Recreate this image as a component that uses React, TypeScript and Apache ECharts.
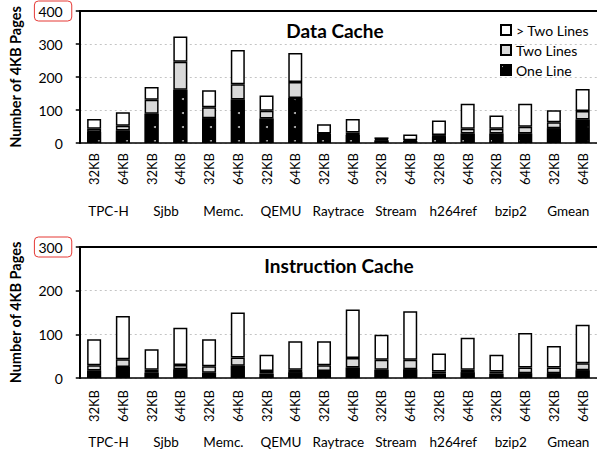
import React, { useEffect, useRef } from "react";
import * as echarts from "echarts";

const groups = ["TPC-H", "Sjbb", "Memc.", "QEMU", "Raytrace", "Stream", "h264ref", "bzip2", "Gmean"];
const sizes = ["32KB", "64KB"];
const categories = groups.flatMap((g) => sizes.map((s) => `${g} ${s}`));

// Data Cache
const dataOne = [33, 38, 89, 161, 75, 132, 74, 136, 27, 24, 8, 6, 18, 29, 29, 29, 45, 71];
const dataTwo = [10, 14, 42, 85, 33, 46, 24, 49, 2, 8, 3, 2, 6, 14, 14, 20, 18, 26];
const dataMore = [30, 41, 39, 77, 52, 104, 46, 88, 28, 41, 6, 18, 44, 76, 40, 70, 36, 67];

// Instruction Cache
const instOne = [17, 25, 12, 20, 12, 28, 10, 13, 16, 24, 19, 20, 10, 13, 10, 11, 11, 18];
const instTwo = [12, 18, 7, 10, 15, 19, 6, 6, 13, 22, 23, 22, 5, 6, 5, 13, 13, 16];
const instMore = [60, 99, 47, 85, 62, 103, 37, 65, 55, 111, 57, 111, 41, 73, 38, 79, 49, 88];

const yMaxData = 400;
const yMaxInst = 300;

const FONT = "Lato";

function yAxisFor(gridIndex: number, max: number) {
  return {
    type: "value",
    gridIndex,
    min: 0,
    max,
    interval: 100,
    name: "Number of 4KB Pages",
    nameLocation: "middle",
    nameGap: 47,
    nameTextStyle: { fontFamily: FONT, fontWeight: "bold", fontSize: 14.5, color: "#000" },
    axisLine: { show: true, lineStyle: { color: "#000", width: 2 } },
    axisTick: { show: true, length: 4, lineStyle: { color: "#000", width: 1.5 } },
    splitLine: { show: true, lineStyle: { color: "#c4c4c4", type: [2, 3], width: 1 } },
    axisLabel: {
      margin: 8,
      formatter: (v: number) => (v === max ? `{box|${v}}` : `{n|${v}}`),
      rich: {
        n: { fontFamily: FONT, fontSize: 14, color: "#000", padding: [3, 9, 3, 4] },
        box: {
          fontFamily: FONT,
          fontSize: 14,
          color: "#000",
          padding: [3, 9, 3, 4],
          borderColor: "#e53935",
          borderWidth: 1,
          borderRadius: 4,
        },
      },
    },
  };
}

function xAxesFor(gridIndex: number, sizeMargin: number, groupMargin: number) {
  return [
    {
      type: "category",
      gridIndex,
      data: categories,
      position: "bottom",
      axisLine: { show: true, lineStyle: { color: "#000", width: 1.5 } },
      axisTick: { show: false },
      axisLabel: {
        interval: 0,
        rotate: 90,
        margin: sizeMargin,
        fontFamily: FONT,
        fontSize: 13,
        color: "#000",
        formatter: (v: string) => v.split(" ")[1],
      },
    },
    {
      type: "category",
      gridIndex,
      data: groups,
      position: "bottom",
      axisLine: { show: false },
      axisTick: { show: false },
      axisLabel: { interval: 0, margin: groupMargin, fontFamily: FONT, fontSize: 13.5, color: "#000" },
    },
    {
      type: "category",
      gridIndex,
      data: categories,
      position: "top",
      axisLine: { show: true, lineStyle: { color: "#000", width: 2 } },
      axisTick: { show: false },
      axisLabel: { show: false },
    },
  ];
}

const barBase = {
  type: "bar",
  barWidth: 14,
  itemStyle: { borderColor: "#000", borderWidth: 1.5 },
};

function seriesFor(axisOffset: number, gridIndex: number, one: number[], two: number[], more: number[]) {
  const stack = `s${gridIndex}`;
  return [
    {
      ...barBase,
      name: "One Line",
      xAxisIndex: axisOffset,
      yAxisIndex: gridIndex,
      stack,
      data: one,
      itemStyle: {
        color: "#000",
        borderColor: "#000",
        borderWidth: 1.5,
        decal: {
          symbol: "circle",
          symbolSize: 1,
          color: "rgba(255,255,255,0.75)",
          dashArrayX: [1.5, 12],
          dashArrayY: [1.5, 12],
        },
      },
    },
    {
      ...barBase,
      name: "Two Lines",
      xAxisIndex: axisOffset,
      yAxisIndex: gridIndex,
      stack,
      data: two,
      itemStyle: { color: "#d9d9d9", borderColor: "#000", borderWidth: 1.5 },
    },
    {
      ...barBase,
      name: "> Two Lines",
      xAxisIndex: axisOffset,
      yAxisIndex: gridIndex,
      stack,
      data: more,
      itemStyle: { color: "#fff", borderColor: "#000", borderWidth: 1.5 },
    },
  ];
}

export default function App() {
  const ref = useRef<HTMLDivElement>(null);
  useEffect(() => {
    if (!ref.current) return;
    const chart = echarts.init(ref.current, null, { renderer: "svg" });
    const option = {
      animation: false,
      textStyle: { fontFamily: FONT },
      grid: [
        { left: 70, top: 11, width: 527, height: 132 },
        { left: 70, top: 247, width: 527, height: 131 },
      ],
      xAxis: [...xAxesFor(0, 10, 61), ...xAxesFor(1, 12, 57)],
      yAxis: [yAxisFor(0, yMaxData), yAxisFor(1, yMaxInst)],
      legend: {
        show: true,
        orient: "vertical",
        left: 495,
        top: 18,
        itemWidth: 10,
        itemHeight: 10,
        itemGap: 6,
        icon: "rect",
        selectedMode: false,
        data: ["> Two Lines", "Two Lines", "One Line"],
        textStyle: { fontFamily: FONT, fontSize: 14, color: "#000" },
      },
      graphic: [
        {
          type: "text",
          x: 335,
          y: 30,
          style: {
            text: "Data Cache",
            fontFamily: FONT,
            fontWeight: "bold",
            fontSize: 19,
            fill: "#000",
            align: "center",
            verticalAlign: "middle",
          },
        },
        {
          type: "text",
          x: 339,
          y: 265,
          style: {
            text: "Instruction Cache",
            fontFamily: FONT,
            fontWeight: "bold",
            fontSize: 19,
            fill: "#000",
            align: "center",
            verticalAlign: "middle",
          },
        },
      ],
      series: [
        ...seriesFor(0, 0, dataOne, dataTwo, dataMore),
        ...seriesFor(3, 1, instOne, instTwo, instMore),
      ],
    };
    chart.setOption(option as any);
    return () => chart.dispose();
  }, []);
  return (
    <div
      ref={ref}
      style={{ position: "absolute", left: 0, top: 0, width: 597, height: 461, background: "#fff" }}
    />
  );
}
